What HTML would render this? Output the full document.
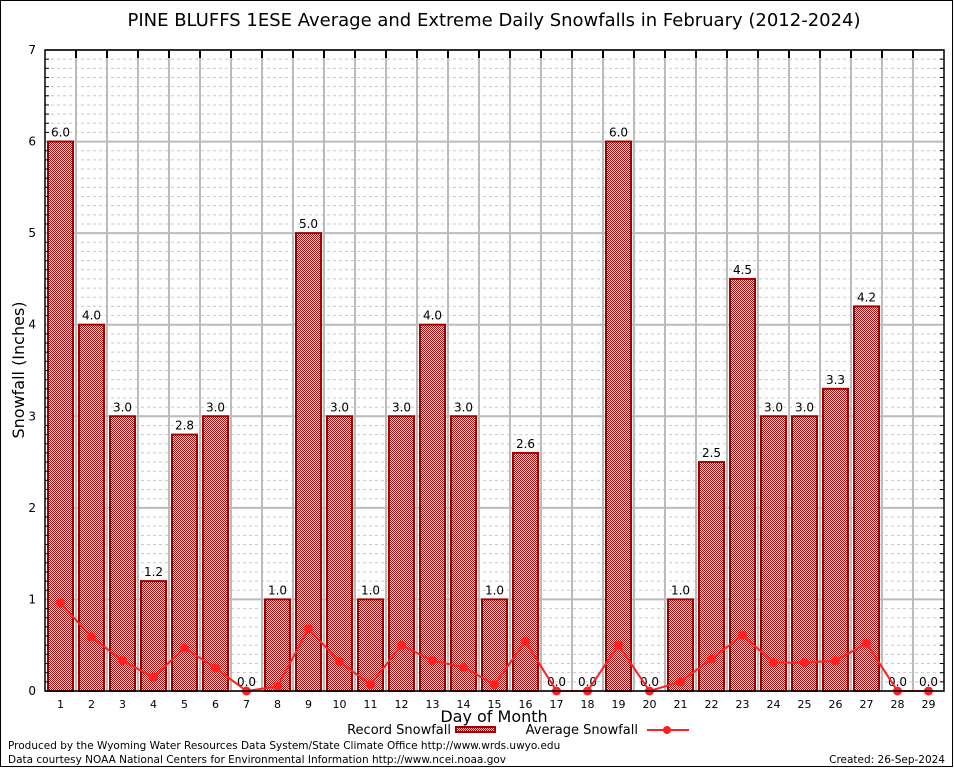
<!DOCTYPE html>
<html><head><meta charset="utf-8"><style>
body{margin:0;background:#fff}
svg text{font-family:"DejaVu Sans","Liberation Sans",sans-serif}
</style></head><body>
<svg width="954" height="768" viewBox="0 0 954 768">
<defs>
<pattern id="chk" width="2" height="2" patternUnits="userSpaceOnUse">
<rect width="2" height="2" fill="#fff"/><rect width="1" height="1" fill="#c00000"/><rect x="1" y="1" width="1" height="1" fill="#c00000"/>
</pattern>
</defs>
<rect x="0.5" y="0.5" width="952" height="766" fill="#fff" stroke="#000"/>
<text x="494" y="26" font-size="18" text-anchor="middle">PINE BLUFFS 1ESE Average and Extreme Daily Snowfalls in February (2012-2024)</text>
<g id="grid"></g>
<g id="bars"></g>
<g id="avg"></g>
<g id="axes"></g>
<text transform="translate(24,370) rotate(-90)" font-size="16" text-anchor="middle">Snowfall (Inches)</text>
<text x="494" y="722" font-size="16" text-anchor="middle">Day of Month</text>
<g>
<text x="451" y="734" font-size="13" text-anchor="end">Record Snowfall</text>
<rect x="456" y="727" width="39" height="5" fill="url(#chk)" stroke="#a00000" stroke-width="2"/>
</g>
<g>
<text x="638" y="734" font-size="13" text-anchor="end">Average Snowfall</text>
<line x1="647" y1="730" x2="689" y2="730" stroke="#ff2020" stroke-width="2"/>
<circle cx="667" cy="730" r="4" fill="#ff2020"/>
</g>
<text x="8" y="749" font-size="10.5">Produced by the Wyoming Water Resources Data System/State Climate Office http://www.wrds.uwyo.edu</text>
<text x="8" y="763" font-size="10.5">Data courtesy NOAA National Centers for Environmental Information http://www.ncei.noaa.gov</text>
<text x="945" y="763" font-size="10.5" text-anchor="end">Created: 26-Sep-2024</text>
</svg>
<script>
const days=[1,2,3,4,5,6,7,8,9,10,11,12,13,14,15,16,17,18,19,20,21,22,23,24,25,26,27,28,29];
const recordSnow=[6.0,4.0,3.0,1.2,2.8,3.0,0.0,1.0,5.0,3.0,1.0,3.0,4.0,3.0,1.0,2.6,0.0,0.0,6.0,0.0,1.0,2.5,4.5,3.0,3.0,3.3,4.2,0.0,0.0];
const avgSnow=[0.96,0.59,0.33,0.15,0.47,0.25,0.0,0.05,0.68,0.32,0.07,0.5,0.33,0.26,0.07,0.54,0.0,0.0,0.5,0.0,0.1,0.35,0.61,0.31,0.31,0.33,0.52,0.0,0.0];
const yTicks=[0,1,2,3,4,5,6,7];
const NS="http://www.w3.org/2000/svg";
const L=45,R=944,T=50,B=691,yMax=7;
const cw=(R-L)/days.length;
const y=v=>B-(v/yMax)*(B-T);
const xc=i=>L+cw*(i+0.5);
function mk(tag,at,parent,txt){const e=document.createElementNS(NS,tag);for(const k in at)e.setAttribute(k,at[k]);if(txt!==undefined)e.textContent=txt;parent.appendChild(e);return e;}
const grid=document.getElementById('grid'),bars=document.getElementById('bars'),avg=document.getElementById('avg'),axes=document.getElementById('axes');
for(let m=0;m<yMax*10;m++){if(m%10===0)continue;const yy=y(m/10);
const g=mk('line',{x1:L,x2:R,y1:yy,y2:yy,stroke:'#c8c8c8','stroke-dasharray':'3,3'},grid);

mk('line',{x1:L,x2:L+4,y1:yy,y2:yy,stroke:'#000'},axes);mk('line',{x1:R-4,x2:R,y1:yy,y2:yy,stroke:'#000'},axes);}
yTicks.forEach(t=>{const yy=y(t);
const g=mk('line',{x1:L,x2:R,y1:yy,y2:yy,stroke:'#bbb','stroke-width':2},grid);

const tx=mk('text',{x:L-9,y:yy+4,'font-size':12,'text-anchor':'end','font-family':'DejaVu Serif, Liberation Serif, serif'},axes,String(t));
});
for(let i=1;i<days.length;i++){const xx=L+cw*i;
const g=mk('line',{x1:xx,x2:xx,y1:T,y2:B,stroke:'#bbb','stroke-width':2},grid);

mk('line',{x1:xx,x2:xx,y1:T,y2:T+8,stroke:'#000','stroke-width':2},axes);}
days.forEach((d,i)=>{const v=recordSnow[i];
if(v>0){const r=mk('rect',{x:xc(i)-12.5,y:y(v),width:25,height:B-y(v),fill:'url(#chk)',stroke:'#a00000','stroke-width':2},bars);
}
const lb=mk('text',{x:xc(i),y:y(v)-5,'font-size':12,'text-anchor':'middle'},bars,v.toFixed(1));

const tx=mk('text',{x:xc(i),y:B+17,'font-size':11,'text-anchor':'middle','font-family':'DejaVu Serif, Liberation Serif, serif'},axes,String(d));
});
const pl=mk('polyline',{points:avgSnow.map((v,i)=>xc(i)+','+y(v)).join(' '),fill:'none',stroke:'#ff2020','stroke-width':2},avg);

avgSnow.forEach((v,i)=>{const c=mk('circle',{cx:xc(i),cy:y(v),r:4.5,fill:'#ff2020'},avg);
});
const fr=mk('rect',{x:L,y:T,width:R-L,height:B-T,fill:'none',stroke:'#000','stroke-width':1.5},axes);

</script>
</body></html>
